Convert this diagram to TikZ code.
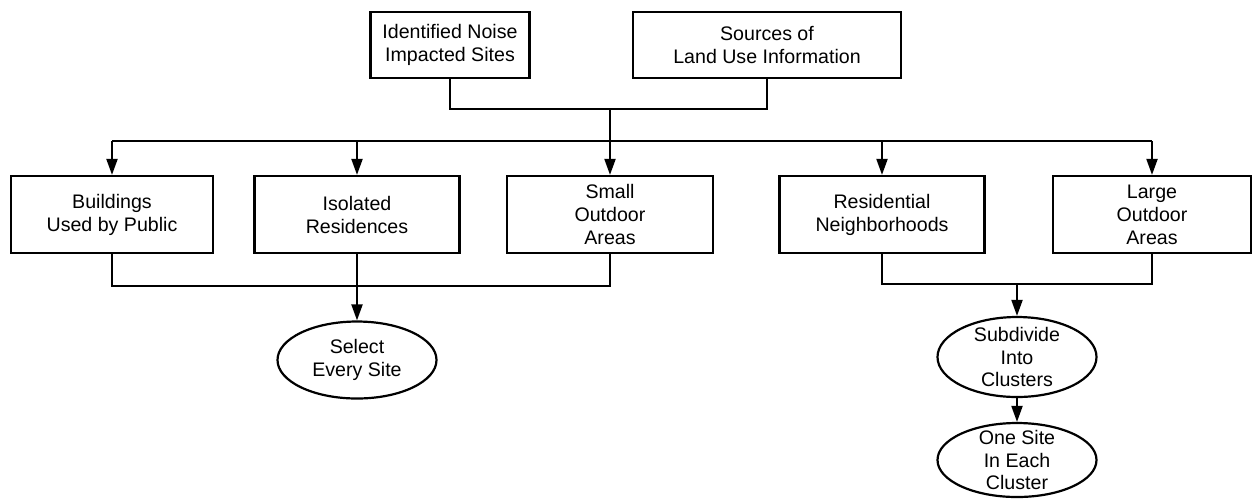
\documentclass[tikz,border=0pt]{standalone}
\usepackage{fontspec}
\setmainfont{Liberation Sans}
\usetikzlibrary{shapes.geometric,arrows.meta}

\begin{document}
\begin{tikzpicture}[x=0.5pt,y=-0.5pt,line width=1pt,
	box/.style={draw,line width=1.1pt,align=center,inner sep=0pt,minimum height=38.5pt,font=\fontsize{9.8}{11.5}\selectfont},
	oval/.style={draw,ellipse,line width=1.1pt,align=center,inner xsep=0pt,inner ysep=-2.5pt,minimum width=79.5pt,font=\fontsize{9.8}{11.25}\selectfont},
	arr/.style={-{Triangle[length=8pt,width=5.5pt]}}]
	\useasboundingbox (0,0) rectangle (1252,500);

	\node[box,minimum width=79.5pt,minimum height=33pt] (noise) at (450,45) {Identified Noise\\Impacted Sites};
	\node[box,minimum width=134pt,minimum height=33pt] (landuse) at (767,45) {Sources of\\Land Use Information};

	\node[box,minimum width=101pt] (public) at (112,214.5) {Buildings\\Used by Public};
	\node[box,minimum width=102.5pt] (isolated) at (357,214.5) {Isolated\\Residences};
	\node[box,minimum width=103pt] (small) at (610,214.5) {Small\\Outdoor\\Areas};
	\node[box,minimum width=102.5pt] (residential) at (882,214.5) {Residential\\Neighborhoods};
	\node[box,minimum width=99pt] (large) at (1152,214.5) {Large\\Outdoor\\Areas};

	\node[oval,minimum height=38.5pt] (select) at (357,360) {Select\\Every Site};
	\node[oval,minimum height=40pt] (subdivide) at (1017,357) {Subdivide\\Into\\Clusters};
	\node[oval,minimum height=37pt] (onesite) at (1017,460) {One Site\\In Each\\Cluster};

	\coordinate (join) at (610,109);
	\coordinate (bar) at (0,141);
	\coordinate (lowleft) at (0,286);
	\coordinate (lowright) at (0,284);

	\draw (noise.south) -- (noise.south |- join) -- (landuse.south |- join) -- (landuse.south);
	\draw[arr] (join) -- (small.north);
	\draw (public.north |- bar) -- (large.north |- bar);
	\foreach \n in {public,isolated,residential,large}
		\draw[arr] (\n.north |- bar) -- (\n.north);

	\draw (public.south) -- (public.south |- lowleft) -- (small.south |- lowleft) -- (small.south);
	\draw[arr] (isolated.south) -- (select.north);
	\draw (residential.south) -- (residential.south |- lowright) -- (large.south |- lowright) -- (large.south);
	\draw[arr] (subdivide.north |- lowright) -- (subdivide.north);
	\draw[arr] (subdivide.south) -- (onesite.north);
\end{tikzpicture}
\end{document}
